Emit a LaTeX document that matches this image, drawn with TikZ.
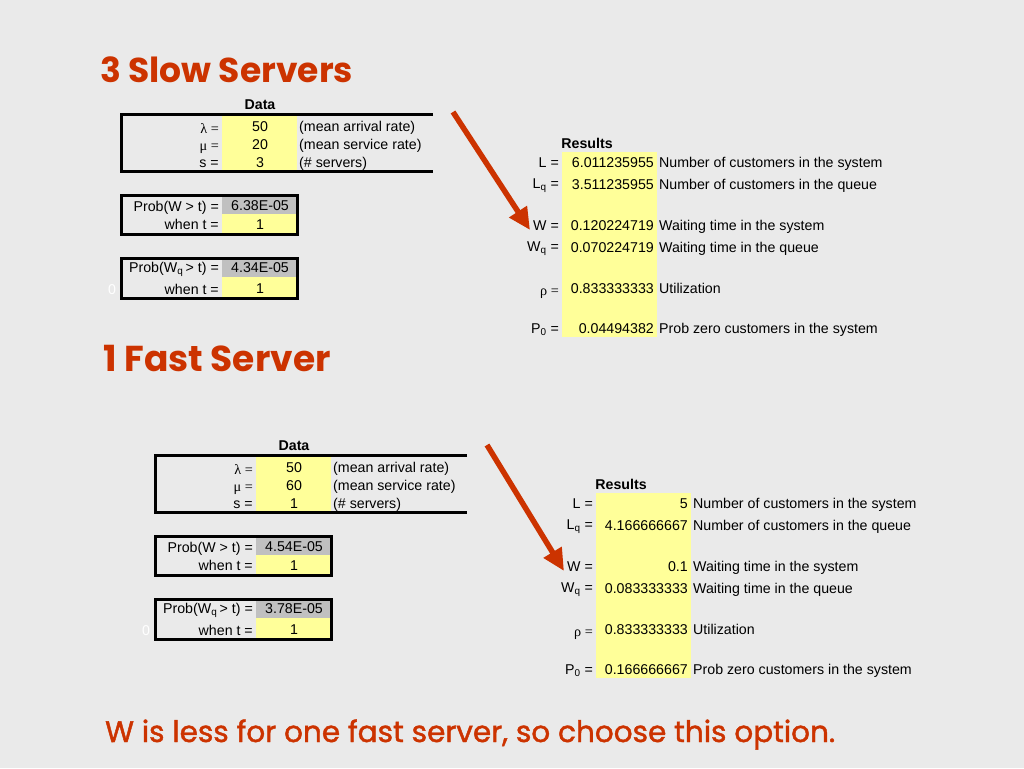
\documentclass[tikz,border=0pt]{standalone}
\usepackage{fontspec}
\setmainfont{Liberation Sans}
\newfontfamily\titlefont{Poppins}
\newfontfamily\bottomfont[FakeBold=1.5]{Poppins}
\newfontfamily\grkfont{Liberation Serif}
\usetikzlibrary{arrows.meta}
\definecolor{bg}{HTML}{EAEAEA}
\definecolor{cellyellow}{HTML}{FFFF99}
\definecolor{cellgrey}{HTML}{C0C0C0}
\definecolor{titlered}{HTML}{CC3300}
\tikzset{
  txt/.style={font=\fontsize{14.2}{16}\selectfont, inner sep=0pt, yshift=-2.5pt},
  lab/.style={txt, anchor=mid east},
  val/.style={txt, anchor=mid},
  valr/.style={txt, anchor=mid east},
  com/.style={txt, anchor=mid west},
  head/.style={txt, font=\fontsize{14.2}{16}\selectfont\bfseries, anchor=mid},
  tableline/.style={line width=3pt, black},
  title/.style={font=\titlefont\bfseries\fontsize{34.5}{40}\selectfont, text=titlered, inner sep=0pt, anchor=base west},
  bigarrow/.style={draw=titlered, line width=5.5pt, -{Triangle[length=22pt,width=20pt]}},
}
\newcommand\leftpanel[5]{%
  \fill[cellyellow] (222,115) rectangle (297,170);
  \draw[tableline] (433,114) -- (121,114) -- (121,171) -- (433,171);
  \node[head] (#1data) at (260,104) {Data};
  \node[lab] (#1lam) at (219,128) {{\grkfont λ =}};
  \node[lab] (#1mu) at (219,145) {{\grkfont μ =}};
  \node[lab] (#1s) at (219,162) {s =};
  \node[val] (#1lamv) at (260,126) {50};
  \node[val] (#1muv) at (260,144) {#2};
  \node[val] (#1sv) at (260,162) {#3};
  \node[com] (#1lamc) at (299,126) {(mean arrival rate)};
  \node[com] (#1muc) at (299,144) {(mean service rate)};
  \node[com] (#1sc) at (299,162) {(\# servers)};
  % box 2
  \fill[cellgrey] (222,196) rectangle (297,214);
  \fill[cellyellow] (222,214) rectangle (297,233);
  \draw[tableline] (121,195) rectangle (297,234);
  \node[lab] (#1pw) at (219,206) {Prob(W > t) =};
  \node[val] (#1pwv) at (260,205) {#4};
  \node[lab] (#1wt) at (219,224) {when t =};
  \node[val] (#1wtv) at (260,224) {1};
  % box 3
  \fill[cellgrey] (222,258) rectangle (297,277);
  \fill[cellyellow] (222,277) rectangle (297,297);
  \draw[tableline] (121,258) rectangle (297,298);
  \node[lab] (#1pq) at (219,267) {Prob(W\textsubscript{q}\,> t) =};
  \node[val] (#1pqv) at (260,267) {#5};
  \node[lab] (#1qt) at (219,289) {when t =};
  \node[val] (#1qtv) at (260,288) {1};
  \node[txt, text=white, anchor=mid] (#1zero) at (112,289) {0};
}
\newcommand\rightpanel[6]{%
  \fill[cellyellow] (562,152) rectangle (657,337);
  \node[head] (#1res) at (587,143) {Results};
  \node[lab] (#1L) at (559,162) {L =};
  \node[lab] (#1Lq) at (559,183) {L\textsubscript{q} =};
  \node[lab] (#1W) at (559,225) {W =};
  \node[lab] (#1Wq) at (559,246) {W\textsubscript{q} =};
  \node[lab] (#1rho) at (559,290) {{\grkfont ρ =}};
  \node[lab] (#1P) at (559,328) {P\textsubscript{0} =};
  \node[valr] (#1Lv) at (654,162) {#2};
  \node[valr] (#1Lqv) at (654,184) {#3};
  \node[valr] (#1Wv) at (654,225) {#4};
  \node[valr] (#1Wqv) at (654,247) {#5};
  \node[valr] (#1rhov) at (654,288) {0.833333333};
  \node[valr] (#1Pv) at (654,328) {#6};
  \node[com] (#1Ld) at (659,162) {Number of customers in the system};
  \node[com] (#1Lqd) at (659,184) {Number of customers in the queue};
  \node[com] (#1Wd) at (659,225) {Waiting time in the system};
  \node[com] (#1Wqd) at (659,247) {Waiting time in the queue};
  \node[com] (#1rhod) at (659,288) {Utilization};
  \node[com] (#1Pd) at (659,328) {Prob zero customers in the system};
}
\begin{document}
\begin{tikzpicture}[x=1pt,y=-1pt]
\fill[bg] (0,0) rectangle (1024,768);
\useasboundingbox (0,0) rectangle (1024,768);
\node[title] (t1) at (100,82) {3 Slow Servers};
\node[title, font=\titlefont\bfseries\fontsize{36}{40}\selectfont] (t2) at (103,371) {1 Fast Server};
\node[title, font=\bottomfont\fontsize{29.5}{32}\selectfont] (t3) at (105,742) {W is less for one fast server, so choose this option.};
\leftpanel{a}{20}{3}{6.38E-05}{4.34E-05}
\rightpanel{a}{6.011235955}{3.511235955}{0.120224719}{0.070224719}{0.04494382}
\coordinate (a1s) at (453,112);
\coordinate (a1e) at (530,230);
\draw[bigarrow] (a1s) -- (a1e);
\begin{scope}[shift={(34,341)}]
\leftpanel{b}{60}{1}{4.54E-05}{3.78E-05}
\rightpanel{b}{5}{4.166666667}{0.1}{0.083333333}{0.166666667}
\coordinate (a2s) at (453,104);
\coordinate (a2e) at (530,230);
\draw[bigarrow] (a2s) -- (a2e);
\end{scope}
\end{tikzpicture}
\end{document}
